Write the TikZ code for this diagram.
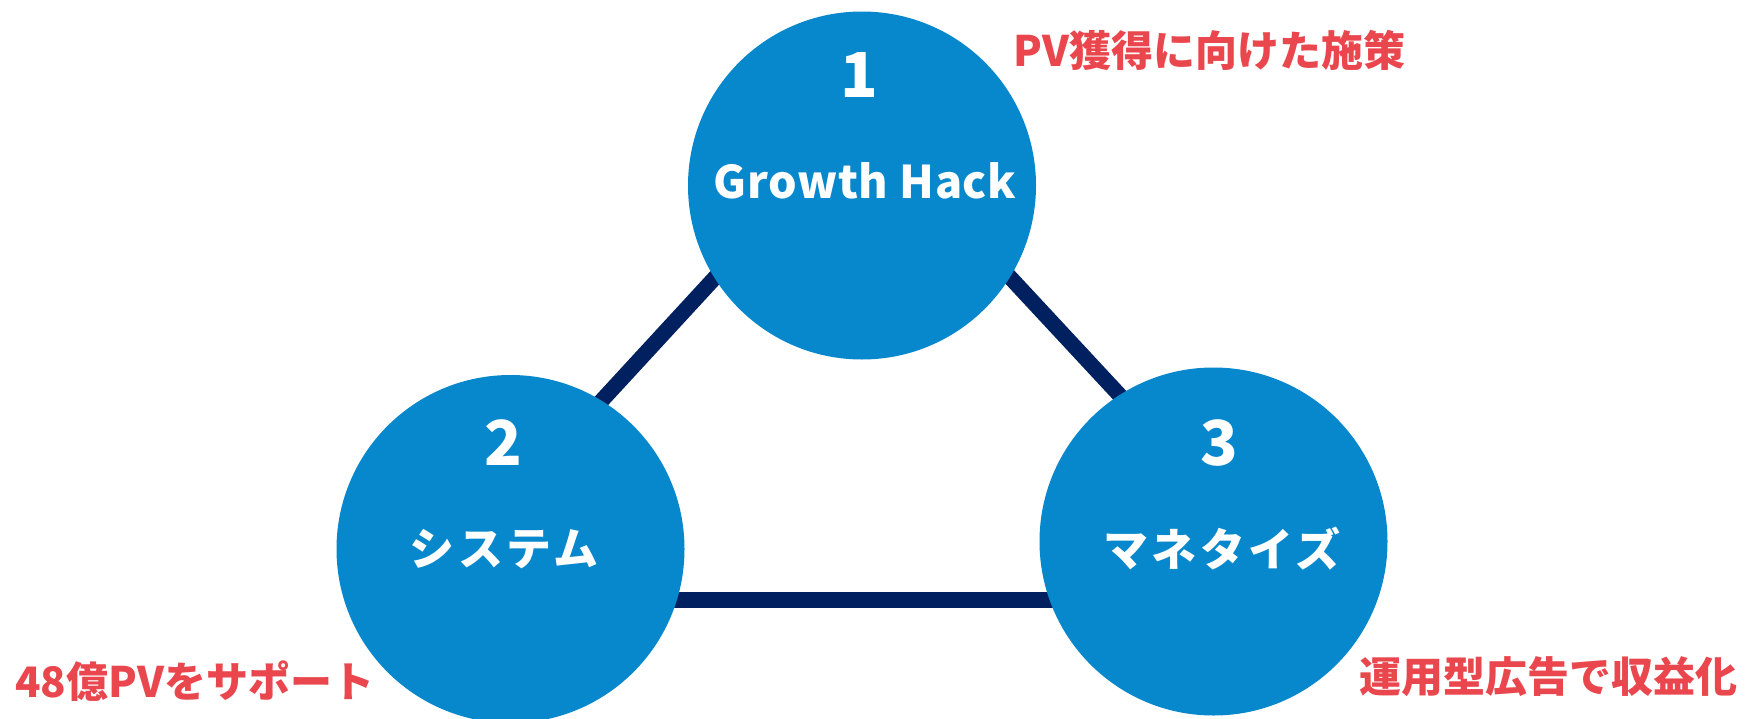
\documentclass[tikz,border=0pt]{standalone}
\usepackage{fontspec}
\setmainfont{Noto Sans CJK JP}
\definecolor{discblue}{HTML}{0787CC}
\definecolor{edgenavy}{HTML}{002060}
\definecolor{notered}{HTML}{E9474D}
\begin{document}
\begin{tikzpicture}[x=1pt,y=-1pt,
  disc/.style={circle,fill=discblue,minimum size=348pt,inner sep=0pt},
  edge/.style={draw=edgenavy,line width=15.5pt},
  num/.style={text=white,font=\fontsize{62}{62}\selectfont\bfseries,anchor=base,inner sep=0pt},
  title/.style={text=white,font=\fontsize{45}{45}\selectfont\bfseries\addfontfeature{LetterSpace=1.5},anchor=base,inner sep=0pt},
  kana/.style={title,font=\fontsize{45}{45}\selectfont\bfseries\addfontfeature{LetterSpace=7}},
  note/.style={text=notered,font=\fontsize{42}{42}\selectfont\bfseries,inner sep=0pt}]
\useasboundingbox (0,0) rectangle (1746,718);
\clip (0,0) rectangle (1746,718);
% triangle corners, hidden under the discs
\coordinate (apex) at (862,118);
\coordinate (bl) at (418,600);
\coordinate (br) at (1310,600);
\draw[edge] (apex) -- (bl);
\draw[edge] (bl) -- (br);
\draw[edge] (br) -- (apex);
% discs
\node[disc] (c1) at (862,185.5) {};
\node[disc] (c2) at (510.5,549) {};
\node[disc] (c3) at (1213.5,541.5) {};
% disc texts
\node[num] (n1) at (859,97) {1};
\node[title] (t1) at (865,198) {Growth Hack};
\node[num] (n2) at (503.5,465) {2};
\node[kana] (t2) at (504,565) {システム};
\node[num] (n3) at (1219,465) {3};
\node[kana] (t3) at (1222,566) {マネタイズ};
% notes
\node[note,anchor=base west] (l1) at (1013,66.7) {PV獲得に向けた施策};
\node[note,anchor=base west] (l2) at (15,697) {48億PVをサポート};
\node[note,anchor=base east] (l3) at (1738,692) {運用型広告で収益化};
\end{tikzpicture}
\end{document}
